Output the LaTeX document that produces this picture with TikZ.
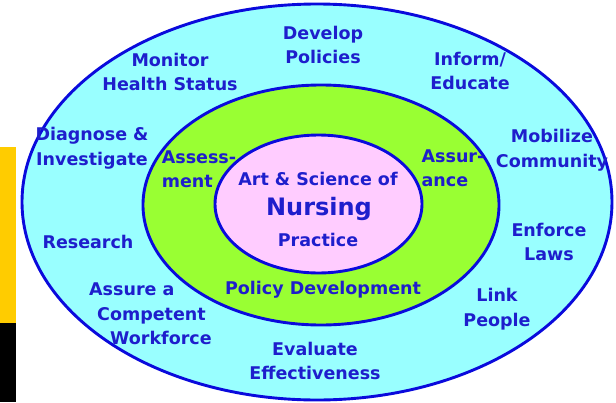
\documentclass[tikz,border=0pt]{standalone}
\usepackage{fontspec}
\setmainfont{DejaVu Sans}
\definecolor{ringblue}{HTML}{0A0ADC}
\definecolor{txtblue}{HTML}{1E1ECC}
\definecolor{outercyan}{HTML}{99FFFF}
\definecolor{midgreen}{HTML}{99FF33}
\definecolor{innerpink}{HTML}{FFCCFF}
\definecolor{baryellow}{HTML}{FFCC00}
\tikzset{
  lbl/.style={text=txtblue, font=\fontsize{17.5}{24.5}\selectfont\bfseries, align=center, inner sep=0pt},
  ring/.style={draw=ringblue, line width=2.9pt}
}
\begin{document}
\begin{tikzpicture}[x=1pt,y=-1pt]
	\useasboundingbox (0,0) rectangle (616,402);
	% side bar
	\fill[baryellow] (0,147) rectangle (16,323);
	\fill[black] (0,323) rectangle (16,402);
	% rings
	\draw[ring, fill=outercyan] (317,202) ellipse (295 and 198);
	\draw[ring, fill=midgreen] (321,205) ellipse (178 and 120);
	\draw[ring, fill=innerpink] (318.5,204) ellipse (103.5 and 69);
	% centre
	\node[lbl] (art) at (318,179) {Art \& Science of};
	\node[lbl, font=\fontsize{24}{28}\selectfont\bfseries] (nursing) at (319,209) {Nursing};
	\node[lbl] (practice) at (318,240) {Practice};
	% middle ring
	\node[lbl, align=left] (assess) at (199,169) {Assess-\\ment};
	\node[lbl, align=left] (assur) at (453,168) {Assur-\\ance};
	\node[lbl] (policy) at (323,290) {Policy Development};
	% outer ring
	\node[lbl] (develop) at (323,45) {Develop\\Policies};
	\node[lbl] (monitor) at (170,72) {Monitor\\Health Status};
	\node[lbl] (inform) at (470,71) {Inform/\\Educate};
	\node[lbl] (diagnose) at (92,148) {Diagnose \&\\Investigate};
	\node[lbl] (mobilize) at (552,150) {Mobilize\\Community};
	\node[lbl] (research) at (88,242) {Research};
	\node[lbl] (enforce) at (549,242) {Enforce\\Laws};
	\node[lbl, align=left, anchor=west] (assure) at (89,314) {Assure a\\\hspace*{8pt}Competent\\\hspace*{21pt}Workforce};
	\node[lbl] (link) at (497,309) {Link\\People};
	\node[lbl] (evaluate) at (315,361) {Evaluate\\Effectiveness};
\end{tikzpicture}
\end{document}
